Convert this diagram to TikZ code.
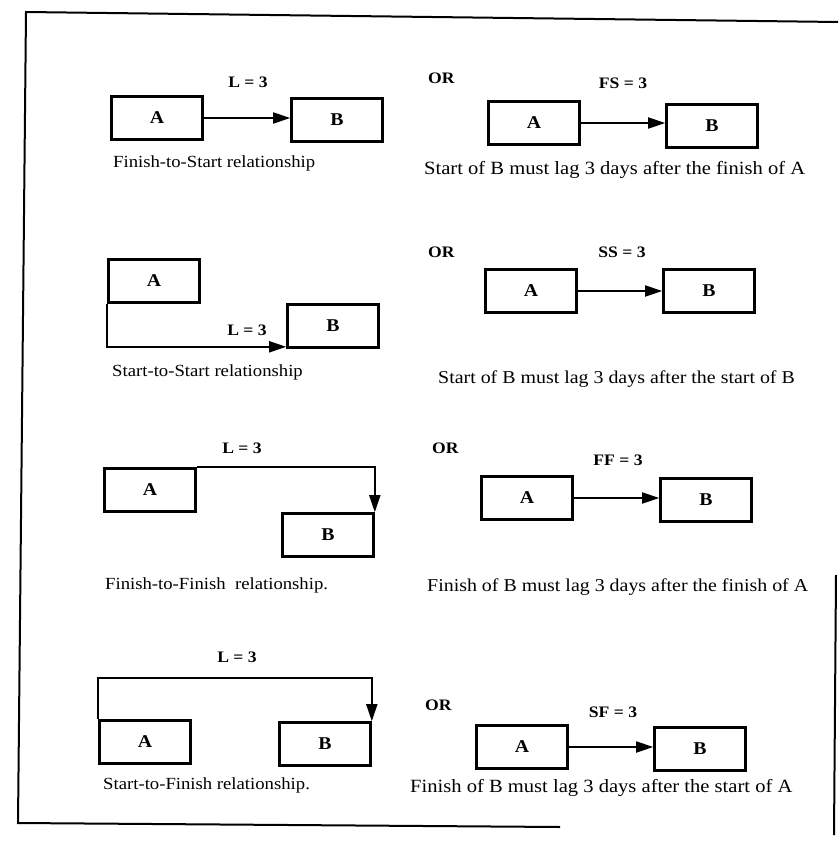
\documentclass[tikz,border=0pt]{standalone}
\usepackage{fontspec}
\setmainfont{Liberation Serif}[FakeStretch=1.1]
\usetikzlibrary{arrows.meta}
\begin{document}
\begin{tikzpicture}[x=1pt,y=-1pt,
  act/.style={draw,line width=2.6pt,minimum width=91pt,minimum height=43pt,inner sep=0pt,font=\fontsize{18}{18}\selectfont\bfseries},
  link/.style={line width=1.8pt,-{Triangle[length=17pt,width=11pt]}},
  lag/.style={inner sep=0pt,font=\fontsize{16}{16}\selectfont\bfseries},
  orl/.style={anchor=west,inner sep=0pt,font=\fontsize{16}{16}\selectfont\bfseries},
  capl/.style={anchor=west,inner sep=0pt,font=\fontsize{17}{17}\selectfont},
  capr/.style={anchor=west,inner sep=0pt,font=\fontsize{18.7}{18.7}\selectfont},
  caprs/.style={anchor=west,inner sep=0pt,font=\fontsize{18.1}{18.1}\selectfont},
  frame/.style={line width=2pt}]
\useasboundingbox (0,0) rectangle (838,851);
% frame
\coordinate (f1) at (26,12);
\coordinate (f2) at (838,22);
\coordinate (f3) at (18,823);
\coordinate (f4) at (560,827);
\coordinate (f5) at (836,575);
\coordinate (f6) at (834,835);
\draw[frame] (f2) -- (f1) -- (f3) -- (f4);
\draw[frame] (f5) -- (f6);
% row 1
\node[act] (a1) at (157,118) {A};
\node[act] (b1) at (337,120) {B};
\draw[link] (a1.east) -- (a1.east -| b1.west);
\node[lag] (l1) at (248,82) {L = 3};
\node[capl] (c1) at (113,163) {Finish-to-Start relationship};
\node[orl] (o1) at (428,78) {OR};
\node[act] (a1r) at (534,123) {A};
\node[act] (b1r) at (712,126) {B};
\draw[link] (a1r.east) -- (a1r.east -| b1r.west);
\node[lag] (l1r) at (623,83) {FS = 3};
\node[capr] (c1r) at (424,170) {Start of B must lag 3 days after the finish of A};
% row 2
\node[act] (a2) at (154,281) {A};
\node[act] (b2) at (333,326) {B};
\draw[link] (a2.south west) |- ([yshift=2pt]b2.south west);
\node[lag] (l2) at (247,330) {L = 3};
\node[capl] (c2) at (112,372) {Start-to-Start relationship};
\node[orl] (o2) at (428,252) {OR};
\node[act] (a2r) at (531,291) {A};
\node[act] (b2r) at (709,291) {B};
\draw[link] (a2r.east) -- (b2r.west);
\node[lag] (l2r) at (622,252) {SS = 3};
\node[caprs] (c2r) at (438,379) {Start of B must lag 3 days after the start of B};
% row 3
\node[act] (a3) at (150,490) {A};
\node[act] (b3) at (328,535) {B};
\draw[link] (a3.north east) -| (b3.north east);
\node[lag] (l3) at (242,448) {L = 3};
\node[capl] (c3) at (105,585) {Finish-to-Finish\ \ relationship.};
\node[orl] (o3) at (432,448) {OR};
\node[act] (a3r) at (527,498) {A};
\node[act] (b3r) at (706,500) {B};
\draw[link] (a3r.east) -- (a3r.east -| b3r.west);
\node[lag] (l3r) at (618,460) {FF = 3};
\node[caprs] (c3r) at (427,587) {Finish of B must lag 3 days after the finish of A};
% row 4
\node[act] (a4) at (145,742) {A};
\node[act] (b4) at (325,744) {B};
\coordinate (t4) at (100,678);
\draw[link] (a4.north west) -- (a4.north west |- t4) -| (b4.north east);
\node[lag] (l4) at (237,657) {L = 3};
\node[capl] (c4) at (103,785) {Start-to-Finish relationship.};
\node[orl] (o4) at (425,705) {OR};
\node[act] (a4r) at (522,747) {A};
\node[act] (b4r) at (700,749) {B};
\draw[link] (a4r.east) -- (a4r.east -| b4r.west);
\node[lag] (l4r) at (613,712) {SF = 3};
\node[capr] (c4r) at (410,788) {Finish of B must lag 3 days after the start of A};
\end{tikzpicture}
\end{document}
